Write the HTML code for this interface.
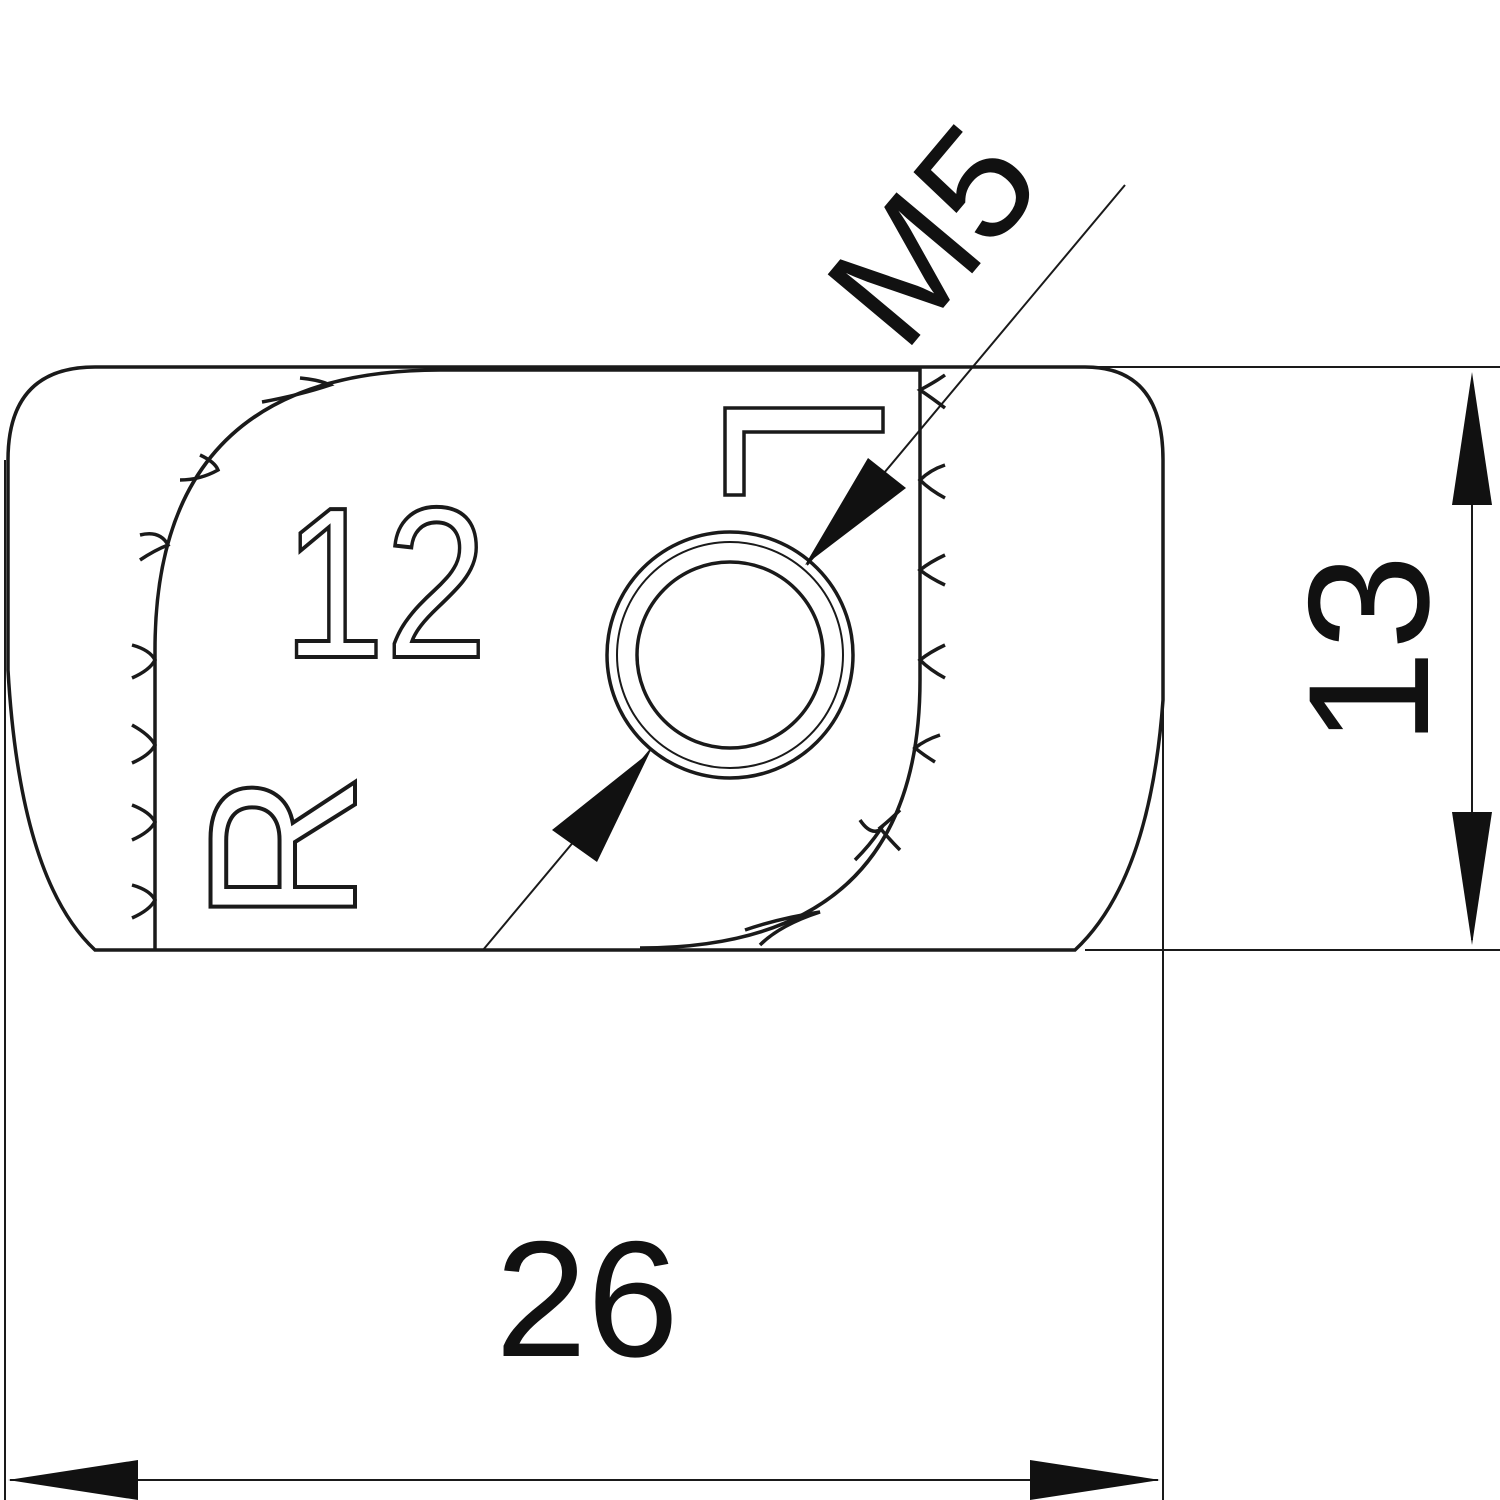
<!DOCTYPE html>
<html><head><style>body{margin:0;background:#fff}svg{display:block}</style></head><body>
<svg width="1500" height="1500" viewBox="0 0 1500 1500" xmlns="http://www.w3.org/2000/svg">
<g fill="none" stroke="#1a1a1a" stroke-width="3.5">
<path d="M95,367 L1085,367 Q1163,367 1163,460 L1163,700 Q1150,880 1075,950 L95,950 Q20,880 8,670 L8,460 Q8,367 95,367 Z"/>
<line x1="5" y1="460" x2="5" y2="1505" stroke-width="2"/>
<line x1="1163" y1="460" x2="1163" y2="1505" stroke-width="2"/>
<line x1="1095" y1="367" x2="1500" y2="367" stroke-width="2"/>
<line x1="1085" y1="950" x2="1500" y2="950" stroke-width="2"/>
<line x1="1472" y1="380" x2="1472" y2="940" stroke-width="2"/>
<line x1="10" y1="1480" x2="1158" y2="1480" stroke-width="2"/>
<path d="M155,950 L155,650 Q155,370 440,370 L920,370 L920,680 Q920,948 640,948" />
<path d="M132,645 Q150,650 155,660 Q150,670 132,678"/>
<path d="M132,725 Q150,735 155,745 Q150,755 132,763"/>
<path d="M132,805 Q150,812 155,822 Q150,832 132,840"/>
<path d="M132,885 Q150,890 155,900 Q150,910 132,918"/>
<path d="M140,535 Q160,530 168,545 Q155,550 140,560"/>
<path d="M200,455 Q215,462 218,470 Q200,480 180,480"/>
<path d="M300,378 Q320,380 330,385 Q300,395 262,402"/>
<path d="M945,375 Q935,382 920,390 Q932,398 945,408"/>
<path d="M945,465 Q930,470 920,480 Q930,490 945,498"/>
<path d="M945,555 Q930,562 920,570 Q930,578 945,585"/>
<path d="M945,645 Q930,652 920,660 Q930,670 945,678"/>
<path d="M940,735 Q925,740 915,748 Q925,756 935,762"/>
<path d="M900,810 Q890,820 880,828 Q890,840 900,850"/>
<path d="M860,820 Q870,835 880,830 Q870,845 855,860"/>
<path d="M745,930 Q780,918 820,912 Q780,925 760,945"/>
<circle cx="730" cy="655" r="93"/>
<circle cx="730" cy="655" r="113" stroke-width="2"/>
<circle cx="730" cy="655" r="123"/>
<line x1="483" y1="950" x2="652" y2="748" stroke-width="2"/>
<line x1="807" y1="565" x2="1125" y2="185" stroke-width="2"/>
<path d="M725,408 L883,408 L883,432 L744,432 L744,495 L725,495 Z"/>
</g>
<g fill="#111">
<polygon points="1472,372 1452,505 1492,505"/>
<polygon points="1472,945 1452,812 1492,812"/>
<polygon points="8,1480 138,1460 138,1500"/>
<polygon points="1160,1480 1030,1460 1030,1500"/>
<polygon points="650,752 552,830 597,862"/>
<polygon points="805,565 868,458 906,488"/>
</g>
<g font-family="Liberation Sans, sans-serif" fill="#111">
<text x="587" y="1356" font-size="165" text-anchor="middle">26</text>
<text transform="translate(1428,650) rotate(-90)" font-size="172" text-anchor="middle">13</text>
<text transform="translate(975,270) rotate(-50)" font-size="160" text-anchor="middle">M5</text>
</g>
<g font-family="Liberation Sans, sans-serif" fill="#fff" stroke="#1a1a1a" stroke-width="4">
<text x="385" y="657" font-size="215" text-anchor="middle" textLength="205" lengthAdjust="spacingAndGlyphs">12</text>
<text transform="translate(355,848) rotate(-90)" font-size="210" text-anchor="middle">R</text>
</g>
</svg>
</body></html>
